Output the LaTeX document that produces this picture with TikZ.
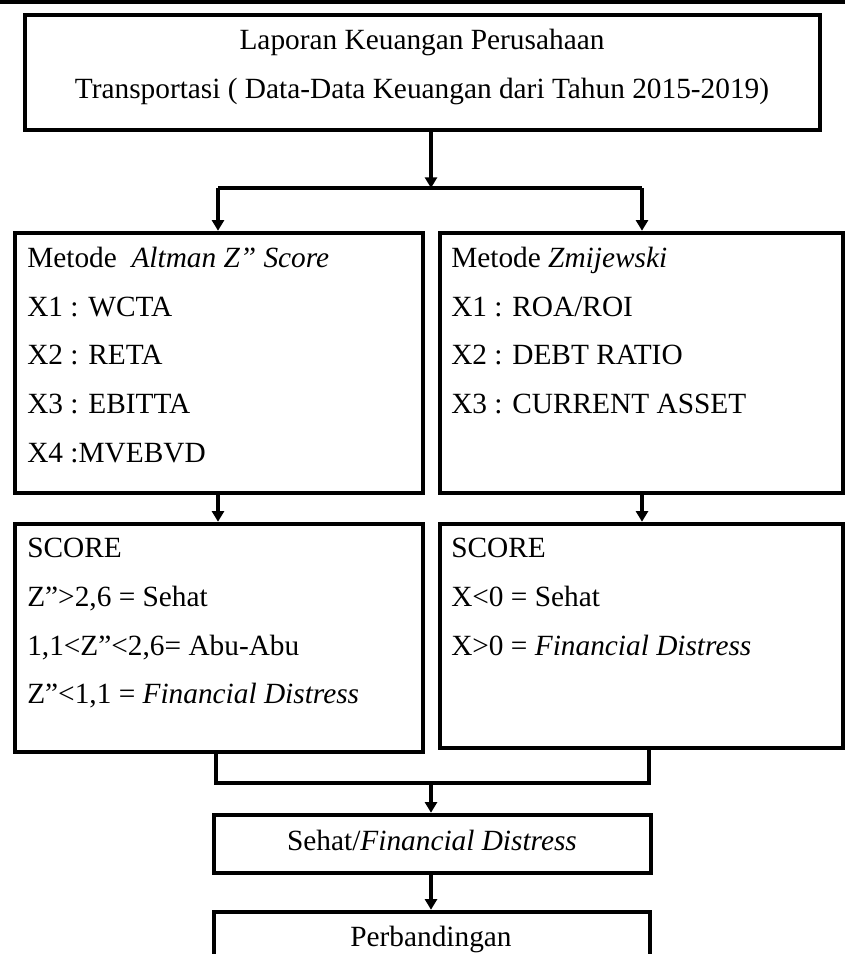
\documentclass[tikz,border=0pt]{standalone}
\usepackage{fontspec}
\setmainfont{Liberation Serif}
\usetikzlibrary{arrows.meta,fit}
\begin{document}
\begin{tikzpicture}[x=0.75pt,y=-0.75pt,
  box/.style={draw, line width=3.4pt, inner sep=0pt},
  txt/.style={anchor=base west, inner sep=0pt, font=\fontsize{22}{26}\selectfont},
  ctxt/.style={anchor=base, inner sep=0pt, font=\fontsize{22}{26}\selectfont},
  conn/.style={line width=2.8pt},
  arr/.style={conn, -{Triangle[length=8pt,width=9pt]}}]
\clip (0,0) rectangle (845,954);
\fill[black] (0,0) rectangle (845,3.5);
% boxes
\node[box, fit={(25,15) (820,130)}] (top) {};
\node[box, fit={(15,233) (423,493)}] (m1) {};
\node[box, fit={(440,233) (843,493)}] (m2) {};
\node[box, fit={(15,524) (423,752)}] (s1) {};
\node[box, fit={(440,524) (843,748)}] (s2) {};
\node[box, fit={(214,815) (651,873)}] (res) {};
\node[box, fit={(214,912) (650,980)}] (cmp) {};
% texts
\node[ctxt] (t1) at (422,49) {Laporan Keuangan Perusahaan};
\node[ctxt] (t2) at (422,98) {Transportasi ( Data-Data Keuangan dari Tahun 2015-2019)};
\node[txt] (a0) at (27,267) {Metode \ \textit{Altman Z” Score}};
\node[txt] (a1) at (27,316) {X1 : WCTA};
\node[txt] (a2) at (27,364) {X2 : RETA};
\node[txt] (a3) at (27,413) {X3 : EBITTA};
\node[txt] (a4) at (27,462) {X4 :MVEBVD};
\node[txt] (b0) at (451,267) {Metode \textit{Zmijewski}};
\node[txt] (b1) at (451,316) {X1 : ROA/ROI};
\node[txt] (b2) at (451,364) {X2 : DEBT RATIO};
\node[txt] (b3) at (451,413) {X3 : CURRENT ASSET};
\node[txt] (c0) at (27,557) {SCORE};
\node[txt] (c1) at (27,606) {Z”>2,6 = Sehat};
\node[txt] (c2) at (27,655) {1,1<Z”<2,6= Abu-Abu};
\node[txt] (c3) at (27,703) {Z”<1,1 = \textit{Financial Distress}};
\node[txt] (d0) at (451,557) {SCORE};
\node[txt] (d1) at (451,606) {X<0 = Sehat};
\node[txt] (d2) at (451,655) {X>0 = \textit{Financial Distress}};
\node[ctxt] (r0) at (432,850) {Sehat/\textit{Financial Distress}};
\node[ctxt] (p0) at (431,946) {Perbandingan};
% connectors
\coordinate (sp) at (431,188);
\coordinate (spl) at (218,188);
\coordinate (spr) at (642,188);
\coordinate (jl) at (216,783);
\coordinate (jr) at (649,783);
\coordinate (jm) at (431,783);
\draw[arr] (sp |- top.south) -- (sp);
\draw[conn] (spl) -- (spr);
\draw[arr] (spl) -- (spl |- m1.north);
\draw[arr] (spr) -- (spr |- m2.north);
\draw[arr] (spl |- m1.south) -- (spl |- s1.north);
\draw[arr] (spr |- m2.south) -- (spr |- s2.north);
\draw[conn] (jl |- s1.south) -- (jl) -- (jr) -- (jr |- s2.south);
\draw[arr] (jm) -- (jm |- res.north);
\draw[arr] (jm |- res.south) -- (jm |- cmp.north);
\end{tikzpicture}
\end{document}
